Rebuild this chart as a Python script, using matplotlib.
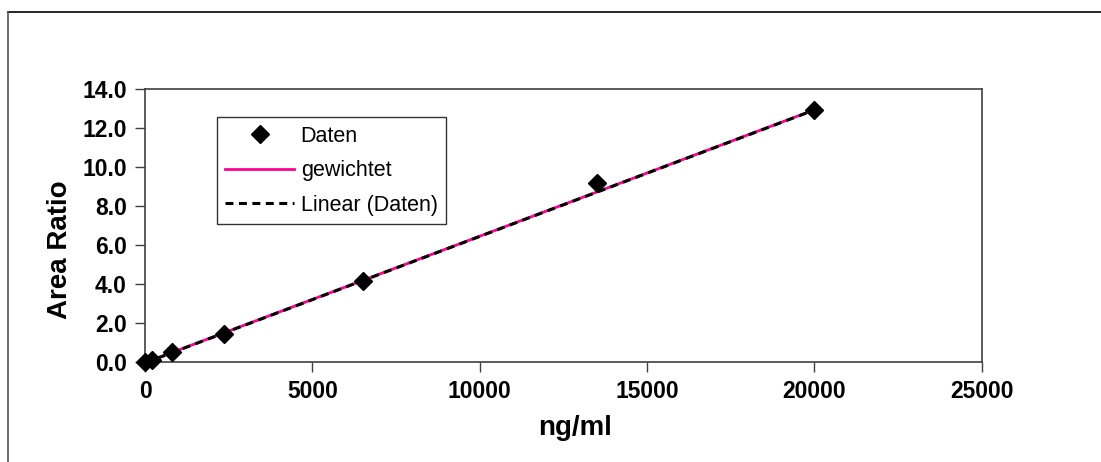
import numpy as np
import matplotlib
matplotlib.use("Agg")
import matplotlib.pyplot as plt
from matplotlib.lines import Line2D

plt.rcParams['font.family'] = ['Liberation Sans', 'DejaVu Sans']

# Calibration data
conc_ng_ml = [0, 200, 800, 2350, 6500, 13500, 20000]
area_ratio = [0.03, 0.12, 0.51, 1.45, 4.16, 9.19, 12.91]

# Regression coefficients (slope, intercept)
weighted_fit = [0.000647, -0.02]
linear_fit = [0.000647, -0.03]

x_ticks = [0, 5000, 10000, 15000, 20000, 25000]
y_ticks = [0.0, 2.0, 4.0, 6.0, 8.0, 10.0, 12.0, 14.0]

x = np.array(conc_ng_ml, dtype=float)
y = np.array(area_ratio, dtype=float)
fit_x = np.array([x.min(), x.max()])
lin_y = np.polyval(linear_fit, fit_x)
w_y = np.polyval(weighted_fit, fit_x)

fig = plt.figure(figsize=(11.01, 4.62), dpi=100)
ax = fig.add_axes([145/1101, 1 - 362.3/462, (981.7-145)/1101, (362.3-88.7)/462])

ax.plot(x, y, linestyle='none', marker='D', markersize=9.5, color='black',
        zorder=5, label='Daten', clip_on=False)
ax.plot(fit_x, w_y, color='#FF0090', lw=2.0, label='gewichtet', zorder=3)
ax.plot(fit_x, lin_y, color='black', lw=2.2, linestyle=(0, (2.6, 1.8)),
        label='Linear (Daten)', zorder=4)

ax.set_xlim(0, 25000)
ax.set_ylim(0, 14)
ax.set_xticks(x_ticks)
ax.set_xticklabels([str(t) for t in x_ticks])
ax.set_yticks(y_ticks)
ax.set_yticklabels([f"{t:.1f}" for t in y_ticks])
for lab in ax.get_xticklabels() + ax.get_yticklabels():
    lab.set_fontweight('bold')
    lab.set_fontsize(16.5)
ax.tick_params(axis='both', direction='out', length=7, width=1, color='#404040', pad=6)
for side in ['left', 'right', 'top', 'bottom']:
    ax.spines[side].set_color('#404040')
    ax.spines[side].set_linewidth(1.2)

fig.text(575/1101, 1 - 428/462, 'ng/ml', ha='center', va='center',
         fontsize=20, fontweight='bold')
fig.text(60/1101, 1 - 250/462, 'Area Ratio', ha='center', va='center',
         rotation=90, fontsize=20, fontweight='bold')

leg = ax.legend(loc='upper left',
                bbox_to_anchor=((216.7-145)/(981.7-145), 1 - (117.3-88.7)/(362.3-88.7)),
                fontsize=15.5, frameon=True, fancybox=False, borderaxespad=0,
                handlelength=3.2, handletextpad=0.3, labelspacing=0.62,
                borderpad=0.4, edgecolor='black')
leg.get_frame().set_linewidth(1.0)

# Outer chart frame (top and left edges)
fig.add_artist(Line2D([8/1101, 1], [1 - 12/462, 1 - 12/462], transform=fig.transFigure,
                      color='black', lw=1.2))
fig.add_artist(Line2D([8/1101, 8/1101], [0, 1 - 12/462], transform=fig.transFigure,
                      color='#555555', lw=1.2))

fig.savefig('out.png', dpi=100, facecolor='white')
